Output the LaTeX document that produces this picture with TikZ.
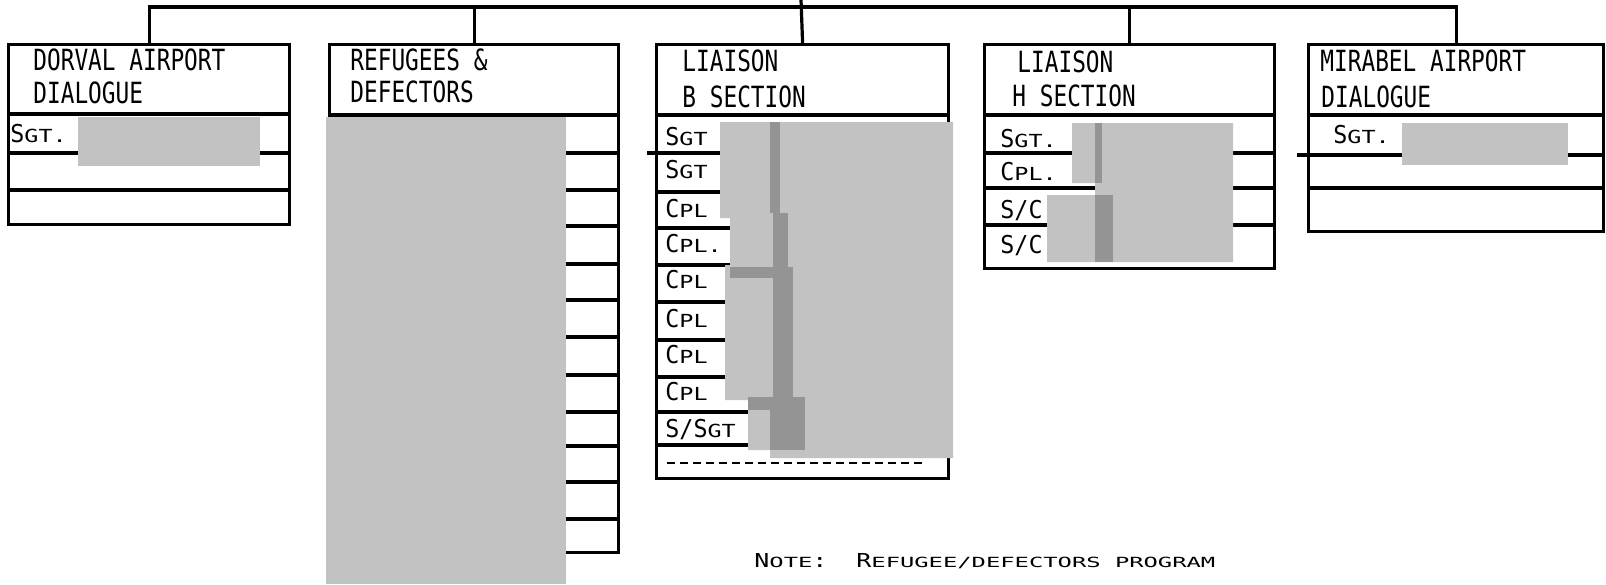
\documentclass[tikz,border=0pt]{standalone}
\usepackage{fontspec}
\usepackage{tikz}
\newfontfamily\headfont[FakeStretch=0.78]{DejaVu Sans Mono}
\newfontfamily\rowfont[FakeStretch=0.95]{DejaVu Sans Mono}
\newfontfamily\widefont[FakeStretch=1.3]{DejaVu Sans Mono}
\newfontfamily\widerfont[FakeStretch=1.7]{DejaVu Sans Mono}
\definecolor{redactgray}{gray}{0.76}
\definecolor{redactdark}{gray}{0.58}
\newcommand{\smc}[1]{{\widefont\fontsize{9}{9}\selectfont #1}}
\newcommand{\nsc}[1]{{\widerfont\fontsize{7}{7}\selectfont #1}}

\begin{document}
\begin{tikzpicture}[
    x=0.5pt, y=-0.5pt,
    frame/.style={draw, rectangle, line width=1.6pt, inner sep=0pt, anchor=north west},
    rule/.style={line width=1.6pt},
    redact/.style={fill=redactgray},
    darkband/.style={fill=redactdark},
    head/.style={font=\headfont\fontsize{14.6}{14.6}\selectfont, anchor=base west, inner sep=0pt},
    rowlabel/.style={font=\rowfont\fontsize{12.3}{12.3}\selectfont, anchor=base west, inner sep=0pt},
    note/.style={font=\widefont\fontsize{9.6}{9.6}\selectfont, anchor=base west, inner sep=0pt}
]
    \useasboundingbox (0,0) rectangle (1606,584);

    % section boxes
    \node[frame, minimum width=140.5pt, minimum height=90pt] (dorval) at (7,43) {};
    \node[frame, minimum width=144.5pt, minimum height=254pt] (refugees) at (328,43) {};
    \node[frame, minimum width=146pt, minimum height=217pt] (liaisonb) at (655,43) {};
    \node[frame, minimum width=145pt, minimum height=112pt] (liaisonh) at (983,43) {};
    \node[frame, minimum width=147.5pt, minimum height=93.5pt] (mirabel) at (1307,43) {};

    % tree lines
    \coordinate (root) at (801,0);
    \coordinate (bus) at (801,7);
    \draw[rule] (dorval.north) -- ++(0,-36) -| (mirabel.north);
    \draw[rule] (root) -- (liaisonb.north);
    \draw[rule] (refugees.north) -- (refugees.north |- bus);
    \draw[rule] (liaisonh.north) -- (liaisonh.north |- bus);

    % rows
    \draw[rule] (7,114) -- (288,114);
    \draw[rule] (7,153) -- (288,153);
    \draw[rule] (7,190) -- (288,190);

    \draw[rule] (328,115) -- (617,115);
    \foreach \y in {153,190,226,264,300,337,375,412,446,482,519}
        \draw[rule] (328,\y) -- (617,\y);

    \draw[rule] (655,115) -- (947,115);
    \draw[rule] (647,153) -- (947,153);
    \foreach \y in {192,228,265,302,340,377,412,445}
        \draw[rule] (655,\y) -- (947,\y);
    \draw[line width=0.8pt, dash pattern=on 4pt off 2.5pt] (667,463) -- (923,463);

    \draw[rule] (983,115) -- (1273,115);
    \foreach \y in {153,188,225}
        \draw[rule] (983,\y) -- (1273,\y);

    \draw[rule] (1307,115) -- (1602,115);
    \draw[rule] (1297,155) -- (1602,155);
    \draw[rule] (1307,188) -- (1602,188);

    % blanked out names
    \fill[redact] (78,117) rectangle (260,166);
    \fill[redact] (326,117) rectangle (566,584);
    \fill[redact] (720,122) -- (953,122) -- (953,458) -- (770,458) -- (770,450) -- (748,450)
        -- (748,400) -- (725,400) -- (725,265) -- (730,265) -- (730,218) -- (720,218) -- cycle;
    \fill[darkband] (770,122) rectangle (780,213);
    \fill[darkband] (773,213) rectangle (788,267);
    \fill[darkband] (730,267) rectangle (793,278);
    \fill[darkband] (773,278) rectangle (793,397);
    \fill[darkband] (748,397) rectangle (805,410);
    \fill[darkband] (770,410) rectangle (805,450);
    \fill[redact] (1072,123) -- (1233,123) -- (1233,262) -- (1047,262) -- (1047,195)
        -- (1095,195) -- (1095,183) -- (1072,183) -- cycle;
    \fill[darkband] (1095,123) rectangle (1102,183);
    \fill[darkband] (1095,195) rectangle (1113,262);
    \fill[redact] (1402,123) rectangle (1568,165);

    % headings
    \node[head] (dorvalA) at (33,70) {DORVAL AIRPORT};
    \node[head] (dorvalB) at (33,103) {DIALOGUE};
    \node[head] (refugeesA) at (350,70) {REFUGEES \&};
    \node[head] (refugeesB) at (350,102) {DEFECTORS};
    \node[head] (liaisonbA) at (682,71) {LIAISON};
    \node[head] (liaisonbB) at (682,107) {B SECTION};
    \node[head] (liaisonhA) at (1017,72) {LIAISON};
    \node[head] (liaisonhB) at (1012,106) {H SECTION};
    \node[head] (mirabelA) at (1320,71) {MIRABEL AIRPORT};
    \node[head] (mirabelB) at (1321,107) {DIALOGUE};

    % ranks
    \node[rowlabel] (dsgt) at (10,142) {S\smc{GT.}};

    \node[rowlabel] (bsgt1) at (665,145) {S\smc{GT}};
    \node[rowlabel] (bsgt2) at (665,178) {S\smc{GT}};
    \node[rowlabel] (bcpl1) at (665,217) {C\smc{PL}};
    \node[rowlabel] (bcpl2) at (665,252) {C\smc{PL.}};
    \node[rowlabel] (bcpl3) at (665,288) {C\smc{PL}};
    \node[rowlabel] (bcpl4) at (665,327) {C\smc{PL}};
    \node[rowlabel] (bcpl5) at (665,363) {C\smc{PL}};
    \node[rowlabel] (bcpl6) at (665,400) {C\smc{PL}};
    \node[rowlabel] (bssgt) at (665,437) {S/S\smc{GT}};

    \node[rowlabel] (hsgt) at (1000,147) {S\smc{GT.}};
    \node[rowlabel] (hcpl) at (1000,180) {C\smc{PL.}};
    \node[rowlabel] (hsc1) at (1000,218) {S/C};
    \node[rowlabel] (hsc2) at (1000,253) {S/C};

    \node[rowlabel] (msgt) at (1333,143) {S\smc{GT.}};

    % note
    \node[note] (notelabel) at (754,567) {N\nsc{OTE}:};
    \node[note] (notetext) at (856,567) {R\nsc{EFUGEE/DEFECTORS PROGRAM}};
\end{tikzpicture}
\end{document}
